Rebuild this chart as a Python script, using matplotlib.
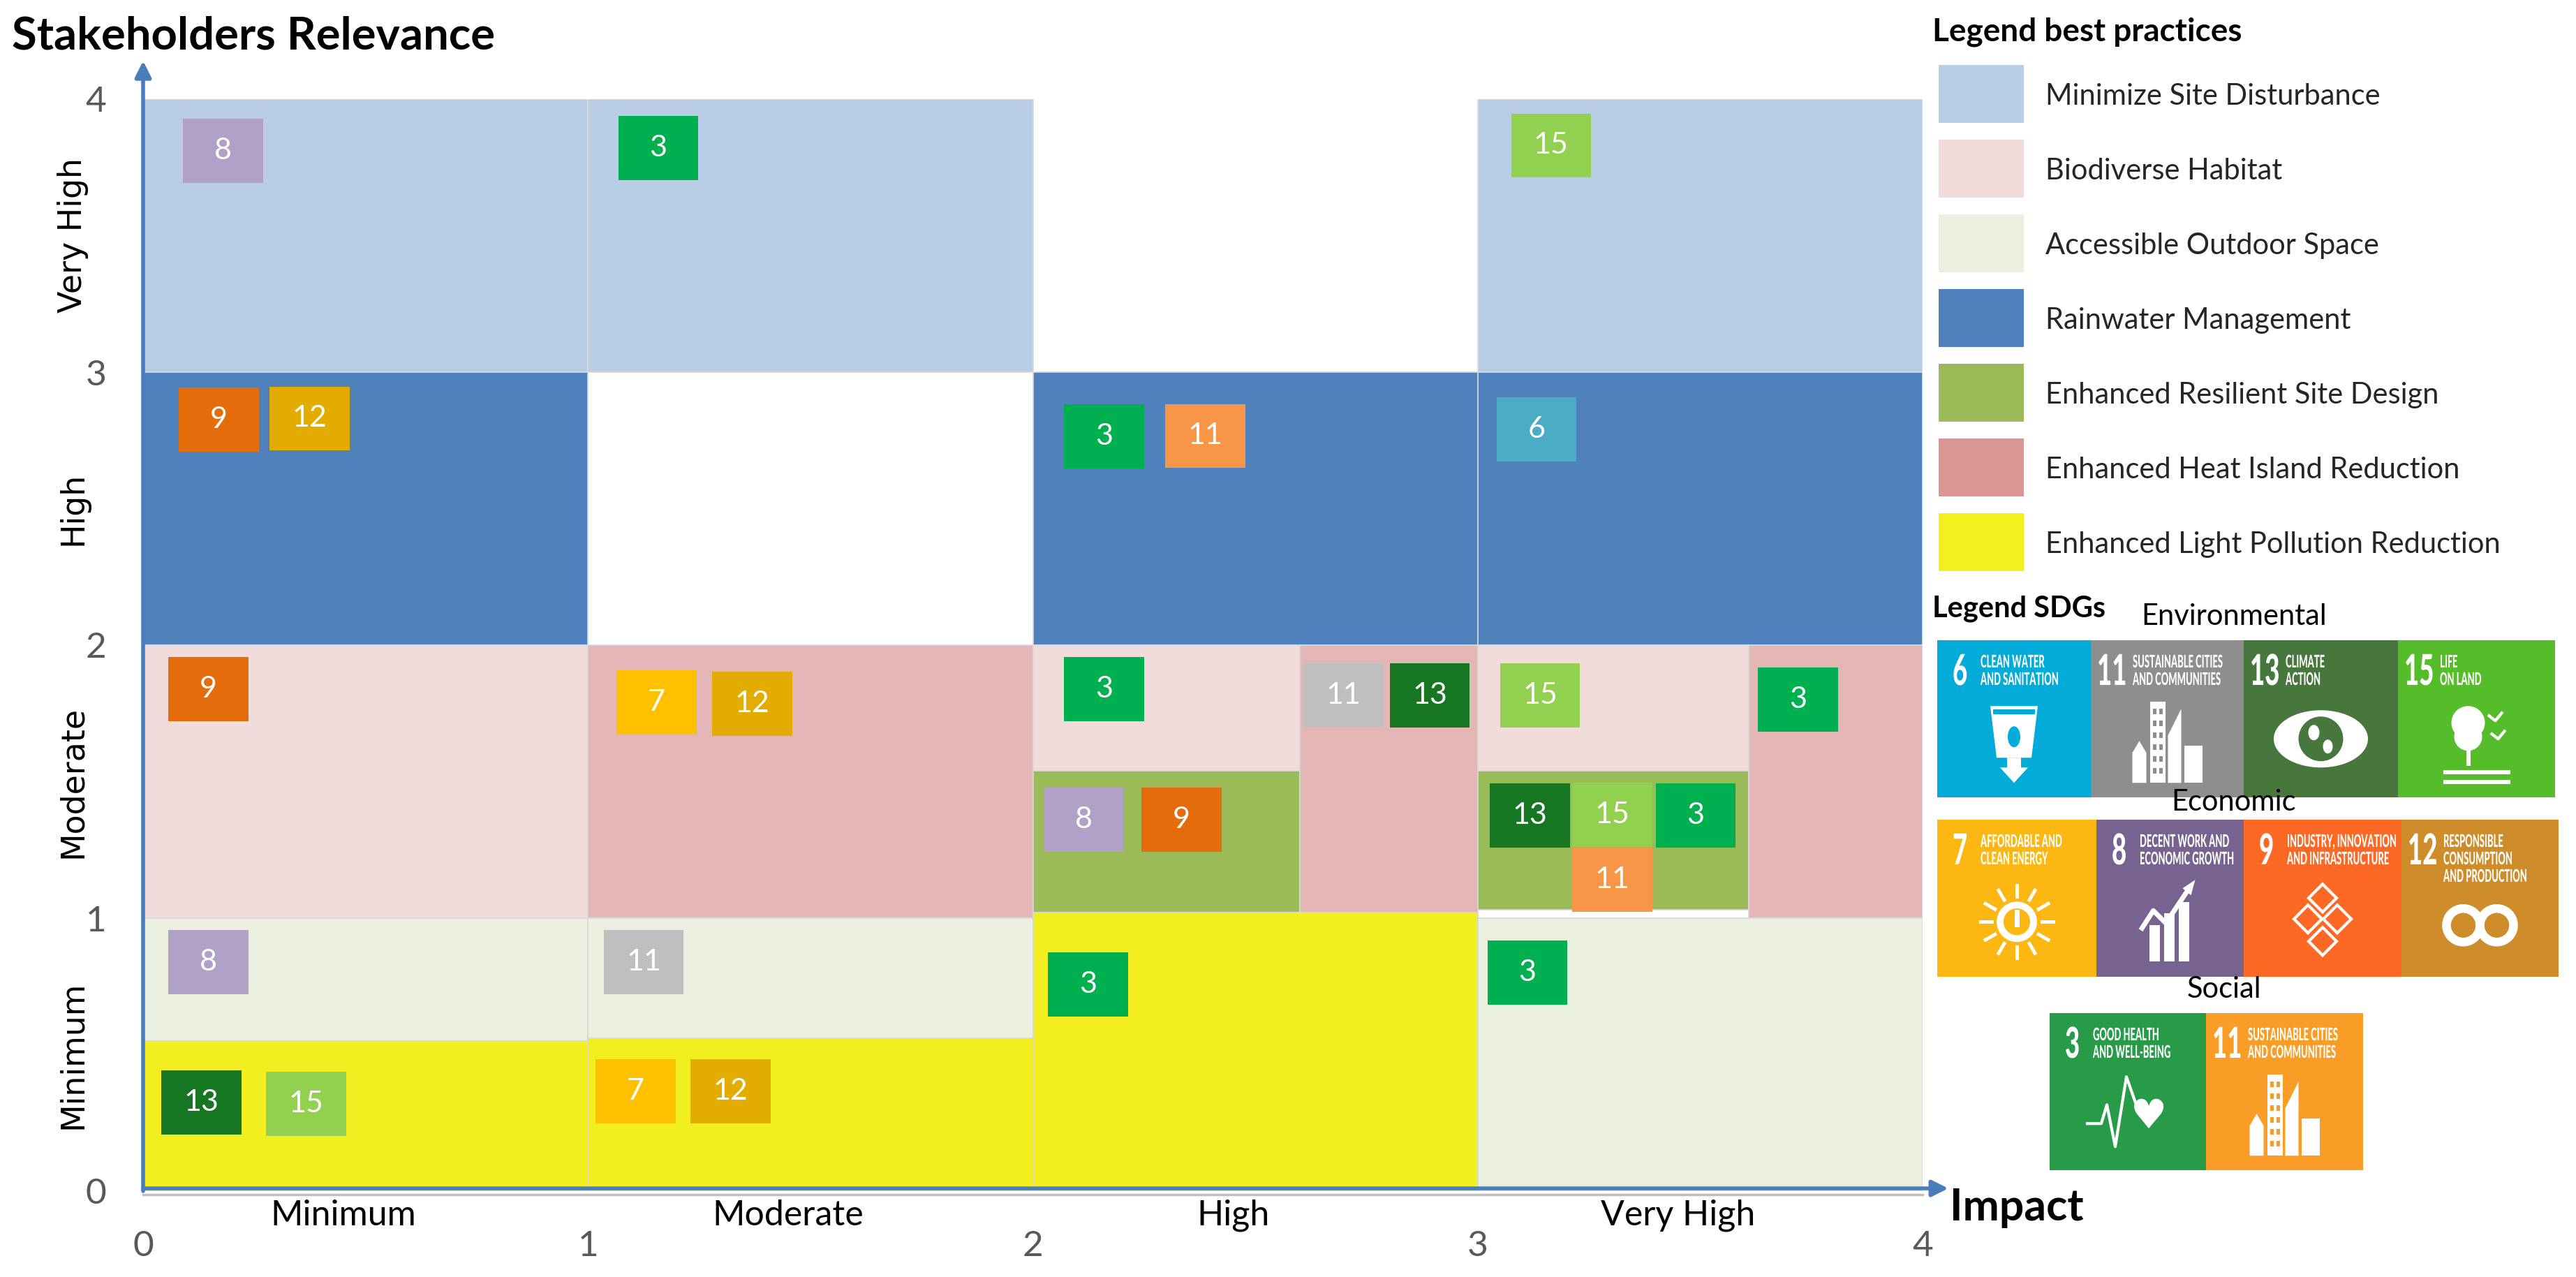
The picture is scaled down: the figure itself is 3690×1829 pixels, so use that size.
import numpy as np
import matplotlib
matplotlib.use('Agg')
import matplotlib.pyplot as plt
from matplotlib.patches import Rectangle, Polygon, Circle, Ellipse, PathPatch
from matplotlib.textpath import TextPath
from matplotlib.font_manager import FontProperties
from matplotlib.transforms import Affine2D

plt.rcParams['font.family'] = ['Lato', 'DejaVu Sans']

# best practices (legend order)
practices = ['Minimize Site Disturbance', 'Biodiverse Habitat', 'Accessible Outdoor Space',
             'Rainwater Management', 'Enhanced Resilient Site Design',
             'Enhanced Heat Island Reduction', 'Enhanced Light Pollution Reduction']
legend_colors = ['#B9CDE5', '#F2DCDB', '#EBF1DE', '#4F81BD', '#9BBB59', '#D99694', '#F4F01E']
cell_colors = ['#B9CDE5', '#F1DCDB', '#EAEFDF', '#4F81BD', '#9BBB59', '#E4B6B5', '#F2EE1F']

# blocks of the matrix: practice index, impact from/to, relevance from/to
block_practice = [0, 0, 0, 3, 3, 3, 1, 5, 1, 4, 5, 1, 4, 5, 2, 6, 2, 6, 6, 2]
block_x0 = [0, 1, 3, 0, 2, 3, 0, 1, 2, 2, 2.6, 3, 3, 3.61, 0, 0, 1, 1, 2, 3]
block_x1 = [1, 2, 4, 1, 3, 4, 1, 2, 2.6, 2.6, 3, 3.61, 3.61, 4, 1, 1, 2, 2, 3, 4]
block_y0 = [3, 3, 3, 2, 2, 2, 1, 1, 1.54, 1.02, 1, 1.54, 1.03, 1, 0.55, 0, 0.56, 0, 0, 0]
block_y1 = [4, 4, 4, 3, 3, 3, 2, 2, 2, 1.54, 2, 2, 1.54, 2, 1, 0.55, 1, 0.56, 1.02, 1]

# SDG badges inside the matrix (g = grey 11, o = orange 11)
badge_keys = ['8', '3', '15', '9', '12', '3', '11o', '6', '9', '7',
              '12', '3', '11g', '13', '15', '3', '8', '9', '13', '15',
              '3', '11o', '8', '11g', '13', '15', '7', '12', '3', '3']
badge_x = [0.18, 1.158, 3.165, 0.17, 0.374, 2.16, 2.388, 3.132, 0.147, 1.154,
           1.369, 2.16, 2.698, 2.892, 3.14, 3.72, 2.115, 2.334, 3.117, 3.303,
           3.49, 3.303, 0.147, 1.125, 0.131, 0.366, 1.107, 1.32, 2.124, 3.112]
badge_y = [3.81, 3.82, 3.83, 2.825, 2.83, 2.765, 2.766, 2.79, 1.84, 1.79,
           1.785, 1.84, 1.815, 1.816, 1.816, 1.80, 1.36, 1.36, 1.375, 1.378,
           1.375, 1.141, 0.84, 0.84, 0.325, 0.32, 0.365, 0.365, 0.757, 0.80]
badge_colors = {'3': '#00B050', '6': '#4BACC6', '7': '#FFC000', '8': '#B2A1C7', '9': '#E46C0A',
                '11g': '#BFBFBF', '11o': '#F79646', '12': '#E3AC00', '13': '#177622', '15': '#92D050'}

levels = ['Minimum', 'Moderate', 'High', 'Very High']
ticks = [0, 1, 2, 3, 4]

# SDG legend
sdg_groups = ['Environmental', 'Economic', 'Social']
sdg_goals = [[6, 11, 13, 15], [7, 8, 9, 12], [3, 11]]
sdg_tile_colors = [['#03ABD8', '#8E8E8E', '#48773E', '#56BD2A'],
                   ['#FDB713', '#78628F', '#FD6825', '#CE8C2B'],
                   ['#279B48', '#F99D26']]
sdg_titles = {6: ['CLEAN WATER', 'AND SANITATION'], 11: ['SUSTAINABLE CITIES', 'AND COMMUNITIES'],
              13: ['CLIMATE', 'ACTION'], 15: ['LIFE', 'ON LAND'],
              7: ['AFFORDABLE AND', 'CLEAN ENERGY'], 8: ['DECENT WORK AND', 'ECONOMIC GROWTH'],
              9: ['INDUSTRY, INNOVATION', 'AND INFRASTRUCTURE'],
              12: ['RESPONSIBLE', 'CONSUMPTION', 'AND PRODUCTION'],
              3: ['GOOD HEALTH', 'AND WELL-BEING']}

W, H = 3690, 1829
fig = plt.figure(figsize=(W / 100, H / 100), dpi=100)
lay = fig.add_axes([0, 0, 1, 1])   # pixel overlay for the legends
lay.set_xlim(0, W)
lay.set_ylim(H, 0)
lay.axis('off')

ax = fig.add_axes([205 / W, (H - 1706) / H, 2549 / W, 1564 / H])
ax.set_facecolor('none')
ax.set_xlim(0, 4)
ax.set_ylim(0, 4)
for s in ax.spines.values():
    s.set_visible(False)

# matrix cells
for p, x0, x1, y0, y1 in zip(block_practice, block_x0, block_x1, block_y0, block_y1):
    ax.add_patch(Rectangle((x0, y0), x1 - x0, y1 - y0, facecolor=cell_colors[p],
                           edgecolor='#D9D9D9', lw=1.2, zorder=1))

# badges
bw, bh = 0.18, 0.235
for k, x, y in zip(badge_keys, badge_x, badge_y):
    ax.add_patch(Rectangle((x - bw / 2, y - bh / 2), bw, bh, facecolor=badge_colors[k],
                           edgecolor='none', zorder=3))
    ax.text(x, y, k.rstrip('go'), color='white', fontsize=31, ha='center', va='center', zorder=4)

# axes with arrows
blue = '#4A7EBB'
ax.plot([0, 4], [-0.014, -0.014], color='#BFBFBF', lw=2.5, clip_on=False, zorder=4)
ax.annotate('', xy=(4.058, 0.01), xytext=(0, 0.01), annotation_clip=False,
            arrowprops=dict(arrowstyle='-|>', color=blue, lw=4, mutation_scale=35,
                            shrinkA=0, shrinkB=0), zorder=5)
ax.annotate('', xy=(0, 4.14), xytext=(0, 0), annotation_clip=False,
            arrowprops=dict(arrowstyle='-|>', color=blue, lw=4, mutation_scale=35,
                            shrinkA=0, shrinkB=0), zorder=5)

ax.set_xticks(ticks)
ax.set_yticks(ticks)
ax.set_xticklabels([str(t) for t in ticks])
ax.set_yticklabels([str(t) for t in ticks])
ax.tick_params(axis='both', length=0, labelsize=37, labelcolor='#595959')
ax.tick_params(axis='x', pad=40)
ax.tick_params(axis='y', pad=38)

for i, lev in enumerate(levels):
    ax.text(i + 0.45, -0.09, lev, fontsize=36, ha='center', va='center', clip_on=False)
    ax.text(-0.157, i + 0.5, lev, fontsize=33, family='DejaVu Sans', rotation=90,
            ha='center', va='center', clip_on=False)

lay.text(17, 52, 'Stakeholders Relevance', fontsize=47, fontweight='bold', ha='left', va='center')
lay.text(2793, 1730, 'Impact', fontsize=45, fontweight='bold', ha='left', va='center')

# legend of best practices
lay.text(2768, 46, 'Legend best practices', fontsize=33, fontweight='bold', ha='left', va='center')
for i, (name, col) in enumerate(zip(practices, legend_colors)):
    top = 93 + i * 107
    lay.add_patch(Rectangle((2777, top), 122, 83, facecolor=col, edgecolor='none'))
    lay.text(2930, top + 45, name, fontsize=30, color='#262626', ha='left', va='center')

# SDG legend tiles
cond = FontProperties(family='Lato', weight='black')


def narrow_text(x, y, s, size, squeeze, maxw=None, color='white'):
    tp = TextPath((0, 0), s, size=size, prop=cond)
    if maxw is not None:
        squeeze = min(squeeze, maxw / max(tp.get_extents().width, 1))
    tr = Affine2D().scale(squeeze, -1).translate(x, y)
    lay.add_patch(PathPatch(tr.transform_path(tp), facecolor=color, edgecolor='none', lw=0))


def icon(goal, x0, y0, w, h, bg):
    cx, cy = x0 + w / 2, y0 + 0.65 * h
    wc = 'white'
    if goal == 6:
        lay.add_patch(Polygon([(cx - 34, cy - 52), (cx + 34, cy - 52), (cx + 25, cy + 22),
                               (cx - 25, cy + 22)], fc=wc, ec='none'))
        lay.add_patch(Polygon([(cx - 10, cy + 22), (cx + 10, cy + 22), (cx + 10, cy + 36),
                               (cx + 20, cy + 36), (cx, cy + 58), (cx - 20, cy + 36),
                               (cx - 10, cy + 36)], fc=wc, ec='none'))
        lay.add_patch(Rectangle((cx - 30, cy - 47), 60, 7, fc=bg, ec='none'))
        lay.add_patch(Ellipse((cx, cy - 8), 18, 30, fc=bg, ec='none'))
    elif goal == 11:
        lay.add_patch(Polygon([(cx - 50, cy + 58), (cx - 50, cy + 15), (cx - 40, cy - 2),
                               (cx - 30, cy + 15), (cx - 30, cy + 58)], fc=wc, ec='none'))
        lay.add_patch(Rectangle((cx - 25, cy - 58), 22, 116, fc=wc, ec='none'))
        lay.add_patch(Polygon([(cx + 1, cy + 58), (cx + 1, cy - 10), (cx + 20, cy - 48),
                               (cx + 20, cy + 58)], fc=wc, ec='none'))
        lay.add_patch(Rectangle((cx + 24, cy + 5), 26, 53, fc=wc, ec='none'))
        for r in range(6):
            for c in range(2):
                lay.add_patch(Rectangle((cx - 21 + c * 9, cy - 48 + r * 17), 5, 8, fc=bg, ec='none'))
    elif goal == 13:
        lay.add_patch(Ellipse((cx, cy - 5), 135, 82, fc=wc, ec='none'))
        lay.add_patch(Circle((cx, cy - 5), 32, fc=bg, ec='none'))
        lay.add_patch(Ellipse((cx - 10, cy - 14), 16, 22, fc=wc, ec='none'))
        lay.add_patch(Ellipse((cx + 10, cy + 6), 14, 20, fc=wc, ec='none'))
    elif goal == 15:
        lay.add_patch(Circle((cx - 12, cy - 28), 24, fc=wc, ec='none'))
        lay.add_patch(Circle((cx - 12, cy - 8), 20, fc=wc, ec='none'))
        lay.add_patch(Rectangle((cx - 15, cy + 12), 6, 22, fc=wc, ec='none'))
        lay.add_patch(Rectangle((cx - 48, cy + 40), 96, 6, fc=wc, ec='none'))
        lay.add_patch(Rectangle((cx - 48, cy + 54), 96, 6, fc=wc, ec='none'))
        lay.plot([cx + 18, cx + 27, cx + 36], [cy - 38, cy - 31, cy - 42], color=wc, lw=3)
        lay.plot([cx + 22, cx + 31, cx + 40], [cy - 12, cy - 5, cy - 16], color=wc, lw=3)
    elif goal == 7:
        lay.add_patch(Circle((cx, cy), 24, fill=False, ec=wc, lw=7))
        lay.plot([cx, cx], [cy - 14, cy + 4], color=wc, lw=5)
        for a in np.linspace(0, 2 * np.pi, 12, endpoint=False):
            lay.plot([cx + 36 * np.cos(a), cx + 52 * np.cos(a)],
                     [cy + 36 * np.sin(a), cy + 52 * np.sin(a)], color=wc, lw=3.5)
    elif goal == 8:
        lay.add_patch(Rectangle((cx - 30, cy + 5), 15, 52, fc=wc, ec='none'))
        lay.add_patch(Rectangle((cx - 9, cy - 12), 15, 69, fc=wc, ec='none'))
        lay.add_patch(Rectangle((cx + 12, cy - 28), 15, 85, fc=wc, ec='none'))
        lay.plot([cx - 42, cx - 24, cx - 6, cx + 26], [cy + 12, cy - 16, cy + 2, cy - 46],
                 color=wc, lw=5, solid_capstyle='butt')
        lay.add_patch(Polygon([(cx + 18, cy - 48), (cx + 36, cy - 60), (cx + 30, cy - 38)],
                              fc=wc, ec='none'))
    elif goal == 9:
        for dx, dy in [(0, -34), (-21, -4), (21, -4), (0, 28)]:
            lay.add_patch(Polygon([(cx + dx, cy + dy - 20), (cx + dx + 20, cy + dy),
                                   (cx + dx, cy + dy + 20), (cx + dx - 20, cy + dy)],
                                  fill=False, ec=wc, lw=3))
    elif goal == 12:
        lay.add_patch(Circle((cx - 24, cy + 5), 24, fill=False, ec=wc, lw=9))
        lay.add_patch(Circle((cx + 24, cy + 5), 24, fill=False, ec=wc, lw=9))
    elif goal == 3:
        lay.plot([cx - 58, cx - 38, cx - 30, cx - 18, cx - 2, cx + 12],
                 [cy + 12, cy + 12, cy - 15, cy + 45, cy - 55, cy - 15], color=wc, lw=3)
        lay.text(cx + 30, cy + 2, '\u2665', family='DejaVu Sans', fontsize=42,
                 color=wc, ha='center', va='center')


lay.text(2768, 872, 'Legend SDGs', fontsize=30, fontweight='bold', ha='left', va='center')
row_tops = [917, 1174, 1451]
row_x = [[2775, 2995, 3214, 3435], [2775, 3003, 3214, 3440], [2936, 3160]]
group_y = [883, 1149, 1417]
group_x = [3200, 3199, 3186]
tile_h = 225
for g, name in enumerate(sdg_groups):
    lay.text(group_x[g], group_y[g], name, fontsize=30, ha='center', va='center', zorder=5)
    xs = row_x[g]
    for j, (goal, col) in enumerate(zip(sdg_goals[g], sdg_tile_colors[g])):
        x0 = xs[j]
        w = (xs[j + 1] - x0) if j + 1 < len(xs) else 225
        y0 = row_tops[g]
        lay.add_patch(Rectangle((x0, y0), w, tile_h, facecolor=col, edgecolor='none'))
        two = goal >= 10
        narrow_text(x0 + (9 if two else 22), y0 + 64, str(goal), 61, 0.6)
        tx = 60 if two else 62
        for li, line in enumerate(sdg_titles[goal]):
            narrow_text(x0 + tx, y0 + 39 + 25 * li, line, 25, 0.52, maxw=w - tx - 6)
        icon(goal, x0, y0, w, tile_h, col)

fig.savefig('out.png', dpi=100)
